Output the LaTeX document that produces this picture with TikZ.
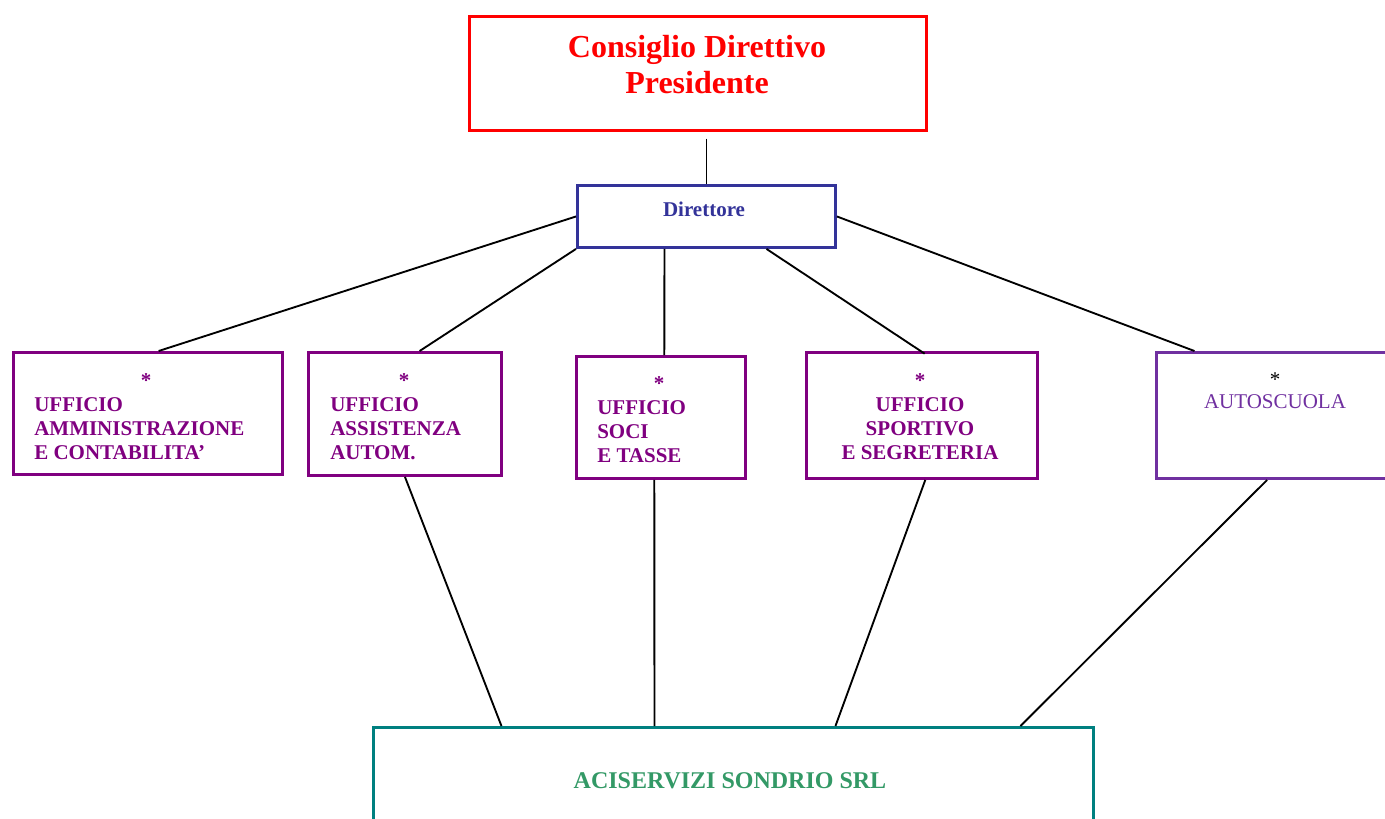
\documentclass[tikz,border=0pt]{standalone}
\usepackage{fontspec}
\setmainfont{Liberation Serif}
\usetikzlibrary{positioning}
\definecolor{consred}{HTML}{FF0000}
\definecolor{dirblue}{HTML}{333399}
\definecolor{uffpurple}{HTML}{800080}
\definecolor{autoviolet}{HTML}{7030A0}
\definecolor{aciteal}{HTML}{008080}
\definecolor{acigreen}{HTML}{339966}
\tikzset{
box/.style 2 args={draw, line width=2.2pt, inner sep=0pt, anchor=north west, minimum width=#1*0.75pt, minimum height=#2*0.75pt},
uff/.style={font=\bfseries\fontsize{15.75}{18}\selectfont, text=uffpurple, inner sep=0pt},
link/.style={draw=black, line width=1.4pt}
}

\begin{document}
\begin{tikzpicture}[x=0.75pt, y=-0.75pt]
\clip (0,0) rectangle (1385,818);
\useasboundingbox (0,0) rectangle (1385,818);

% boxes
\node[box={457}{114}, draw=consred] (cons) at (468,15) {};
\node[box={258}{62}, draw=dirblue] (dir) at (576,184) {};
\node[box={269}{122}, draw=uffpurple] (uff1) at (12,351) {};
\node[box={193}{123}, draw=uffpurple] (uff2) at (307,351) {};
\node[box={169}{122}, draw=uffpurple] (uff3) at (575,355) {};
\node[box={231}{126}, draw=uffpurple] (uff4) at (805,351) {};
\node[box={240}{126}, draw=autoviolet] (auto) at (1155,351) {};
\node[box={720}{130}, draw=aciteal] (aci) at (372,726) {};

% texts (multi-line nodes sit on their last baseline)
\node[anchor=base, align=center, text=consred, inner sep=0pt, font=\bfseries\fontsize{24}{27}\selectfont] (constext) at (697,93) {Consiglio Direttivo\\Presidente};
\node[anchor=base, text=dirblue, inner sep=0pt, font=\bfseries\fontsize{15.75}{18}\selectfont] (dirtext) at (704,216) {Direttore};
\node[uff, anchor=base] (star1) at (146,387) {*};
\node[uff, anchor=base west, align=left] (uff1text) at (34,459) {UFFICIO\\AMMINISTRAZIONE\\E CONTABILITA’};
\node[uff, anchor=base] (star2) at (404,387) {*};
\node[uff, anchor=base west, align=left] (uff2text) at (330,459) {UFFICIO\\ASSISTENZA\\AUTOM.};
\node[uff, anchor=base] (star3) at (659,390) {*};
\node[uff, anchor=base west, align=left] (uff3text) at (597,462) {UFFICIO\\SOCI\\E TASSE};
\node[uff, anchor=base] (star4) at (920,387) {*};
\node[uff, anchor=base, align=center] (uff4text) at (920,459) {UFFICIO\\SPORTIVO\\E SEGRETERIA};
\node[anchor=base, inner sep=0pt, font=\fontsize{15.75}{18}\selectfont] (star5) at (1275,386) {*};
\node[anchor=base, inner sep=0pt, text=autoviolet, font=\fontsize{15.75}{18}\selectfont] (autotext) at (1275,408) {AUTOSCUOLA};
\node[anchor=base, inner sep=0pt, text=acigreen, font=\bfseries\fontsize{18}{20}\selectfont] (acitext) at (730,788) {ACISERVIZI SONDRIO SRL};

% connectors
\draw[link] ([yshift=-5pt]cons.south -| dir.north) -- (dir.north);
\draw[link] (dir.west) -- ([xshift=8pt]uff1.north);
\draw[link] (dir.south west) -- ([xshift=11pt]uff2.north);
\draw[link] ([xshift=-31.5pt]dir.south) -- ([xshift=2.5pt]uff3.north);
\draw[link] ([xshift=45pt]dir.south) -- ([xshift=2pt, yshift=-2pt]uff4.north);
\draw[link] (dir.east) -- ([xshift=-61.5pt]auto.north);
\draw[link] (uff2.south) -- ([xshift=-174pt]aci.north);
\draw[link] ([xshift=-5pt]uff3.south) -- ([xshift=-59.25pt]aci.north);
\draw[link] ([xshift=2.5pt]uff4.south) -- ([xshift=76.5pt]aci.north);
\draw[link] ([xshift=-7pt]auto.south) -- ([xshift=215.25pt]aci.north);
\end{tikzpicture}
\end{document}
